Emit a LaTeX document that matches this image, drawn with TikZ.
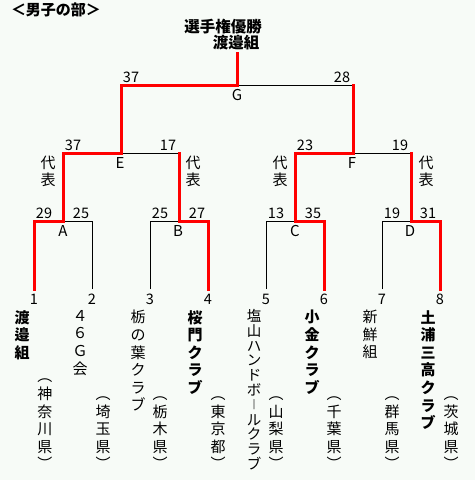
\documentclass[tikz,border=0pt]{standalone}
\usepackage{fontspec}
\setmainfont{Noto Sans CJK JP}
\definecolor{bgc}{RGB}{247,251,247}
\definecolor{winred}{RGB}{255,0,0}
\newcommand{\vbar}{\raisebox{1.8pt}{\scalebox{1}[0.7]{｜}}}
\begin{document}
\begin{tikzpicture}[x=1pt,y=-1pt,
  wire/.style={black,line width=1pt},
  win/.style={winred,line width=3pt,line cap=rect,line join=miter},
  score/.style={font=\fontsize{14.5}{14.5}\selectfont,inner sep=0pt},
  mlabel/.style={font=\fontsize{15}{15}\selectfont,inner sep=0pt},
  num/.style={font=\fontsize{14.5}{14.5}\selectfont,inner sep=0pt},
  rep/.style={font=\fontsize{15}{17}\selectfont,align=center,inner sep=0pt},
  vname/.style={font=\fontsize{15}{17.6}\selectfont,align=center,inner sep=0pt,anchor=north},
  vbold/.style={font=\fontsize{15}{17.6}\selectfont\bfseries,align=center,inner sep=0pt,anchor=north},
  vtight/.style={font=\fontsize{14.5}{14.8}\selectfont,align=center,inner sep=0pt,anchor=north,
    execute at begin node={\lineskiplimit=-20pt\relax}},
  vpref/.style={font=\fontsize{15}{17.6}\selectfont,align=center,inner sep=0pt,anchor=south},
  head/.style={font=\fontsize{15}{15}\selectfont\bfseries,inner sep=0pt},
]
\useasboundingbox (0,0) rectangle (475,480);
\fill[bgc] (0,0) rectangle (475,480);

% coordinates
\coordinate (l1) at (34,289);
\coordinate (l2) at (92,289);
\coordinate (l3) at (150,289);
\coordinate (l4) at (208,289);
\coordinate (l5) at (266,289);
\coordinate (l6) at (324,289);
\coordinate (l7) at (382,289);
\coordinate (l8) at (440,289);
\coordinate (mA) at (63,221);
\coordinate (mB) at (179,221);
\coordinate (mC) at (295,221);
\coordinate (mD) at (411,221);
\coordinate (tA) at (63,153);
\coordinate (tB) at (179,153);
\coordinate (tC) at (295,153);
\coordinate (tD) at (411,153);
\coordinate (mE) at (121,153);
\coordinate (mF) at (353,153);
\coordinate (tE) at (121,85);
\coordinate (tF) at (353,85);
\coordinate (mG) at (237,85);
\coordinate (top) at (237,53);

% black lines
\draw[wire] (l2) |- (mA);
\draw[wire] (l3) |- (mB);
\draw[wire] (l5) |- (mC);
\draw[wire] (l7) |- (mD);
\draw[wire] (tA) -- (tB);
\draw[wire] (tC) -- (tD);
\draw[wire] (tE) -- (tF);

% red winner lines
\draw[win] (l1) |- (mA) -- (tA) -- (mE) -- (tE) -- (mG) -- (top);
\draw[win] (l4) |- (mB) -- (tB);
\draw[win] (l6) |- (mC) -- (tC) -- (mF) -- (tF);
\draw[win] (l8) |- (mD) -- (tD);

% header and title
\node[head] (hdr) at (56,10) {＜男子の部＞};
\node[head,font=\fontsize{15.5}{15.5}\selectfont\bfseries] (ttl) at (223,27) {選手権優勝};
\node[head,font=\fontsize{15.5}{15.5}\selectfont\bfseries] (champ) at (236,43) {渡邉組};

% scores
\node[score] (sG1) at (131,77) {37};
\node[score] (sG2) at (342,77) {28};
\node[score] (sE1) at (73,145) {37};
\node[score] (sE2) at (168,145) {17};
\node[score] (sF1) at (305,145) {23};
\node[score] (sF2) at (400,145) {19};
\node[score] (sA1) at (44,213) {29};
\node[score] (sA2) at (81,213) {25};
\node[score] (sB1) at (160,213) {25};
\node[score] (sB2) at (197,213) {27};
\node[score] (sC1) at (276,213) {13};
\node[score] (sC2) at (313,213) {35};
\node[score] (sD1) at (392,213) {19};
\node[score] (sD2) at (428,213) {31};

% match letters
\node[mlabel] (G) at (237,95) {G};
\node[mlabel] (E) at (120,163) {E};
\node[mlabel] (F) at (352,163) {F};
\node[mlabel] (A) at (63,231) {A};
\node[mlabel] (B) at (178,231) {B};
\node[mlabel] (C) at (295,231) {C};
\node[mlabel] (D) at (410,231) {D};

% representative marks
\node[rep] (r1) at (48,171.5) {代\\表};
\node[rep] (r2) at (193,171.5) {代\\表};
\node[rep] (r3) at (280,171.5) {代\\表};
\node[rep] (r4) at (426,171.5) {代\\表};

% leaf numbers
\node[num] (n1) at (34,299) {1};
\node[num] (n2) at (92,299) {2};
\node[num] (n3) at (150,299) {3};
\node[num] (n4) at (208,299) {4};
\node[num] (n5) at (266,299) {5};
\node[num] (n6) at (324,299) {6};
\node[num] (n7) at (382,299) {7};
\node[num] (n8) at (440,299) {8};

% team names
\node[vbold] (t1) at (22,310) {渡\\邉\\組};
\node[vname] (t2) at (80,310) {４\\６\\Ｇ\\会};
\node[vname] (t3) at (138,310) {栃\\の\\葉\\ク\\ラ\\ブ};
\node[vbold] (t4) at (195,310) {桜\\門\\ク\\ラ\\ブ};
\node[vtight] (t5) at (254,309) {塩\\山\\ハ\\ン\\ド\\ボ\\\vbar\\ル\\ク\\ラ\\ブ};
\node[vbold] (t6) at (312,310) {小\\金\\ク\\ラ\\ブ};
\node[vname] (t7) at (370,310) {新\\鮮\\組};
\node[vbold] (t8) at (428,310) {土\\浦\\三\\高\\ク\\ラ\\ブ};

% prefectures
\node[vpref] (p1) at (45,470) {︵\\神\\奈\\川\\県\\︶};
\node[vpref] (p2) at (103,470) {︵\\埼\\玉\\県\\︶};
\node[vpref] (p3) at (160,470) {︵\\栃\\木\\県\\︶};
\node[vpref] (p4) at (218,470) {︵\\東\\京\\都\\︶};
\node[vpref] (p5) at (276,470) {︵\\山\\梨\\県\\︶};
\node[vpref] (p6) at (334,470) {︵\\千\\葉\\県\\︶};
\node[vpref] (p7) at (392,470) {︵\\群\\馬\\県\\︶};
\node[vpref] (p8) at (451,470) {︵\\茨\\城\\県\\︶};
\end{tikzpicture}
\end{document}
